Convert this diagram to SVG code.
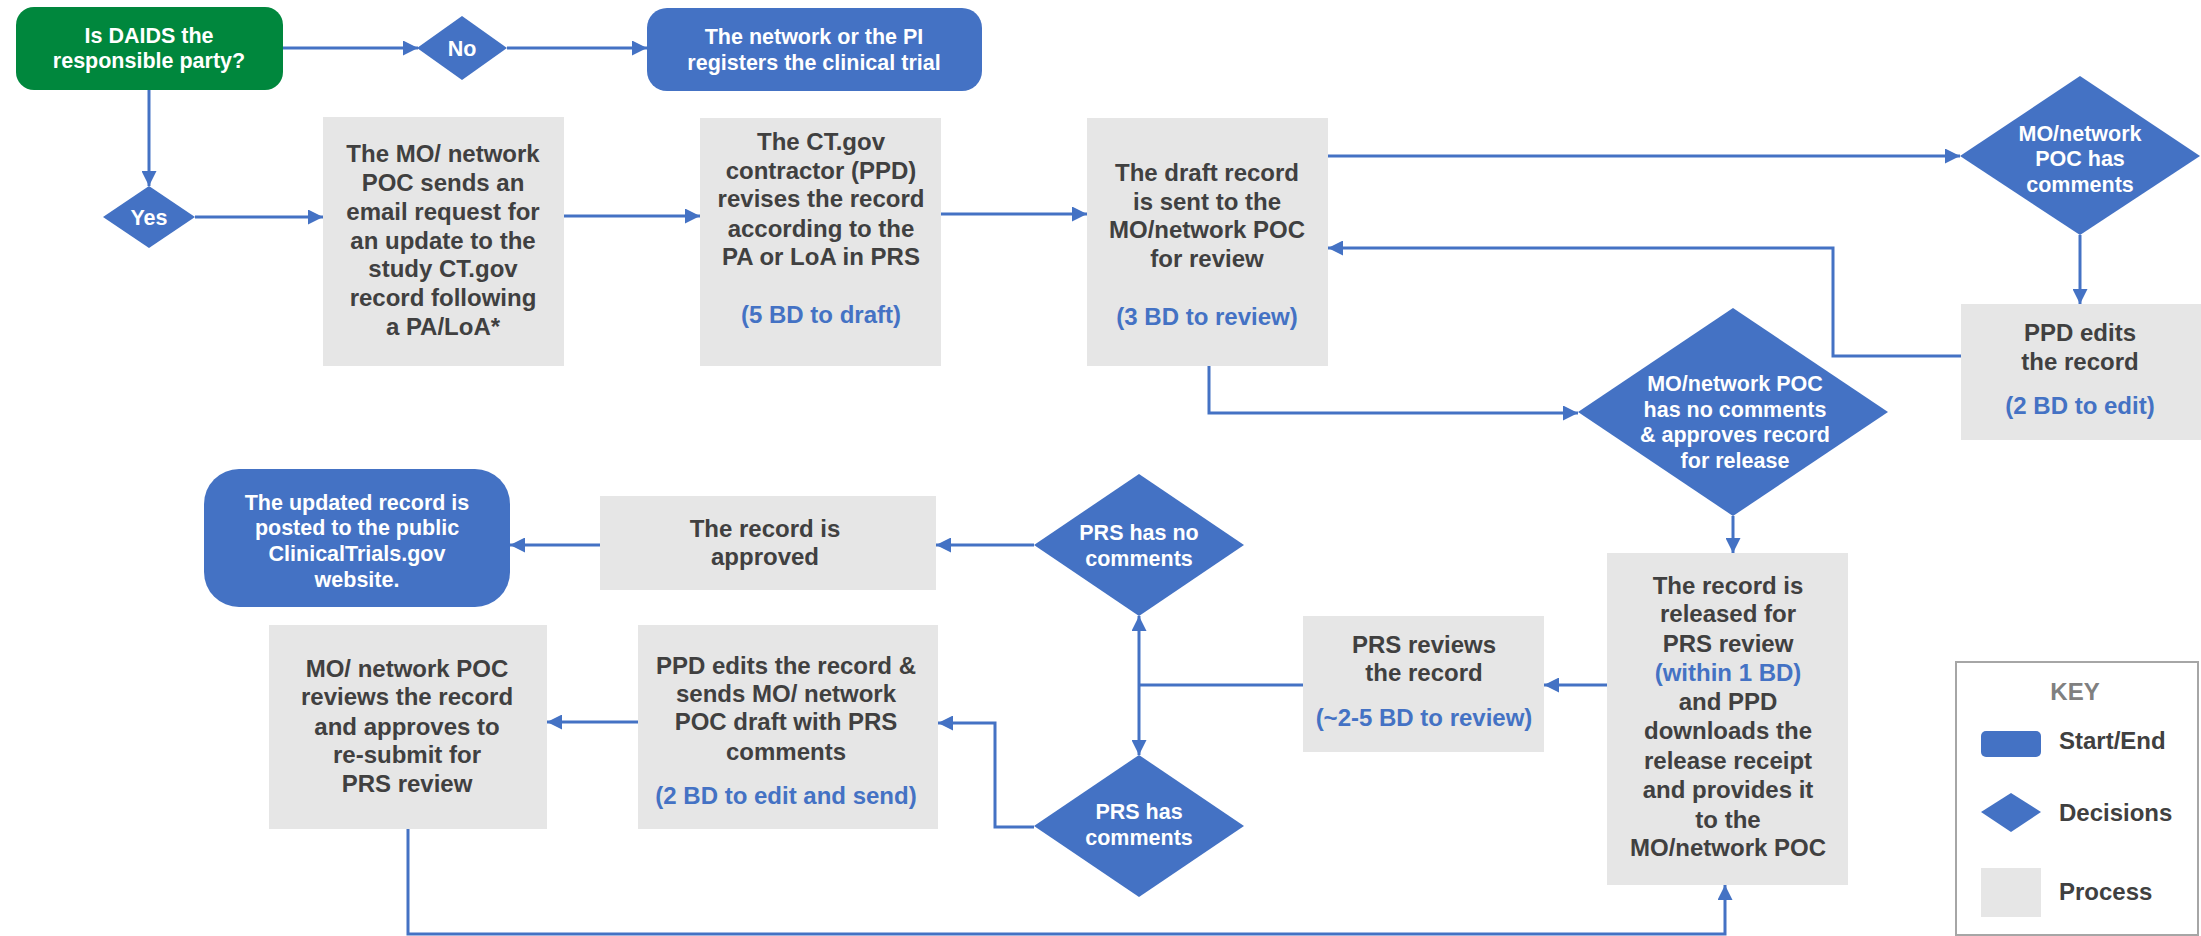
<svg xmlns="http://www.w3.org/2000/svg" width="2201" height="936" viewBox="0 0 2201 936">
<style>
text{font-family:"Liberation Sans",Arial,sans-serif;font-weight:bold;text-anchor:middle}
.p{fill:#E6E6E6}
.b{fill:#4472C4}
.t{font-size:24px;fill:#404040}
.bt{font-size:24px;fill:#4472C4}
.w{font-size:21.5px;fill:#FFFFFF}
.c{fill:none;stroke:#4472C4;stroke-width:3}
</style>
<defs>
<marker id="ah" viewBox="0 0 15 15" markerWidth="15" markerHeight="15" refX="15" refY="7.5" orient="auto" markerUnits="userSpaceOnUse">
<path d="M0,0 L15,7.5 L0,15 z" fill="#4472C4"/>
</marker>
</defs>
<g id="connectors">
<path class="c" d="M283,48 H418" marker-end="url(#ah)"/>
<path class="c" d="M507,48 H647" marker-end="url(#ah)"/>
<path class="c" d="M149,90 V186" marker-end="url(#ah)"/>
<path class="c" d="M195,217 H323" marker-end="url(#ah)"/>
<path class="c" d="M564,216 H700" marker-end="url(#ah)"/>
<path class="c" d="M941,214 H1087" marker-end="url(#ah)"/>
<path class="c" d="M1328,156 H1960" marker-end="url(#ah)"/>
<path class="c" d="M2080,235 V304" marker-end="url(#ah)"/>
<path class="c" d="M1961,356 H1833 V248 H1328" marker-end="url(#ah)"/>
<path class="c" d="M1209,366 V413 H1578" marker-end="url(#ah)"/>
<path class="c" d="M1733,516 V553" marker-end="url(#ah)"/>
<path class="c" d="M1607,685 H1544" marker-end="url(#ah)"/>
<path class="c" d="M1303,685 H1139"/>
<path class="c" d="M1139,685 V616" marker-end="url(#ah)"/>
<path class="c" d="M1139,685 V755" marker-end="url(#ah)"/>
<path class="c" d="M1034,545 H936" marker-end="url(#ah)"/>
<path class="c" d="M600,545 H510" marker-end="url(#ah)"/>
<path class="c" d="M1034,827 H995 V723 H938" marker-end="url(#ah)"/>
<path class="c" d="M638,722 H547" marker-end="url(#ah)"/>
<path class="c" d="M408,829 V934 H1725 V885" marker-end="url(#ah)"/>
</g>
<g id="start">
<rect x="16" y="7" width="267" height="83" rx="18" fill="#00873D"/>
<text class="w" x="149" y="43">Is DAIDS the</text>
<text class="w" x="149" y="68">responsible party?</text>
</g>
<g id="no">
<polygon class="b" points="462,16 507,48 462,80 417,48"/>
<text class="w" x="462" y="56">No</text>
</g>
<g id="network-registers">
<rect class="b" x="647" y="8" width="335" height="83" rx="20"/>
<text class="w" x="814" y="44">The network or the PI</text>
<text class="w" x="814" y="70">registers the clinical trial</text>
</g>
<g id="yes">
<polygon class="b" points="149,186 195,217 149,248 103,217"/>
<text class="w" x="149" y="225">Yes</text>
</g>
<g id="mo-email">
<rect class="p" x="323" y="117" width="241" height="249"/>
<text class="t" x="443" y="162">The MO/ network</text>
<text class="t" x="443" y="191">POC sends an</text>
<text class="t" x="443" y="220">email request for</text>
<text class="t" x="443" y="249">an update to the</text>
<text class="t" x="443" y="277">study CT.gov</text>
<text class="t" x="443" y="306">record following</text>
<text class="t" x="443" y="335">a PA/LoA*</text>
</g>
<g id="ctgov-revises">
<rect class="p" x="700" y="118" width="241" height="248"/>
<text class="t" x="821" y="150">The CT.gov</text>
<text class="t" x="821" y="179">contractor (PPD)</text>
<text class="t" x="821" y="207">revises the record</text>
<text class="t" x="821" y="237">according to the</text>
<text class="t" x="821" y="265">PA or LoA in PRS</text>
<text class="bt" x="821" y="323">(5 BD to draft)</text>
</g>
<g id="draft-sent">
<rect class="p" x="1087" y="118" width="241" height="248"/>
<text class="t" x="1207" y="181">The draft record</text>
<text class="t" x="1207" y="210">is sent to the</text>
<text class="t" x="1207" y="238">MO/network POC</text>
<text class="t" x="1207" y="267">for review</text>
<text class="bt" x="1207" y="325">(3 BD to review)</text>
</g>
<g id="mo-has-comments">
<polygon class="b" points="2080,76 2200,156 2080,235 1960,156"/>
<text class="w" x="2080" y="141">MO/network</text>
<text class="w" x="2080" y="166">POC has</text>
<text class="w" x="2080" y="192">comments</text>
</g>
<g id="ppd-edits">
<rect class="p" x="1961" y="304" width="240" height="136"/>
<text class="t" x="2080" y="341">PPD edits</text>
<text class="t" x="2080" y="370">the record</text>
<text class="bt" x="2080" y="414">(2 BD to edit)</text>
</g>
<g id="mo-approves">
<polygon class="b" points="1733,308 1888,412 1733,516 1578,412"/>
<text class="w" x="1735" y="391">MO/network POC</text>
<text class="w" x="1735" y="417">has no comments</text>
<text class="w" x="1735" y="442">&amp; approves record</text>
<text class="w" x="1735" y="468">for release</text>
</g>
<g id="released">
<rect class="p" x="1607" y="553" width="241" height="332"/>
<text class="t" x="1728" y="594">The record is</text>
<text class="t" x="1728" y="622">released for</text>
<text class="t" x="1728" y="652">PRS review</text>
<text class="bt" x="1728" y="681">(within 1 BD)</text>
<text class="t" x="1728" y="710">and PPD</text>
<text class="t" x="1728" y="739">downloads the</text>
<text class="t" x="1728" y="769">release receipt</text>
<text class="t" x="1728" y="798">and provides it</text>
<text class="t" x="1728" y="828">to the</text>
<text class="t" x="1728" y="856">MO/network POC</text>
</g>
<g id="prs-reviews">
<rect class="p" x="1303" y="616" width="241" height="136"/>
<text class="t" x="1424" y="653">PRS reviews</text>
<text class="t" x="1424" y="681">the record</text>
<text class="bt" x="1424" y="726">(~2-5 BD to review)</text>
</g>
<g id="prs-no-comments">
<polygon class="b" points="1139,474 1244,545 1139,616 1034,545"/>
<text class="w" x="1139" y="540">PRS has no</text>
<text class="w" x="1139" y="566">comments</text>
</g>
<g id="prs-has-comments">
<polygon class="b" points="1139,755 1244,826 1139,897 1034,826"/>
<text class="w" x="1139" y="819">PRS has</text>
<text class="w" x="1139" y="845">comments</text>
</g>
<g id="approved">
<rect class="p" x="600" y="496" width="336" height="94"/>
<text class="t" x="765" y="537">The record is</text>
<text class="t" x="765" y="565">approved</text>
</g>
<g id="end">
<rect class="b" x="204" y="469" width="306" height="138" rx="35"/>
<text class="w" x="357" y="510">The updated record is</text>
<text class="w" x="357" y="535">posted to the public</text>
<text class="w" x="357" y="561">ClinicalTrials.gov</text>
<text class="w" x="357" y="587">website.</text>
</g>
<g id="ppd-edits-sends">
<rect class="p" x="638" y="625" width="300" height="204"/>
<text class="t" x="786" y="674">PPD edits the record &amp;</text>
<text class="t" x="786" y="702">sends MO/ network</text>
<text class="t" x="786" y="730">POC draft with PRS</text>
<text class="t" x="786" y="760">comments</text>
<text class="bt" x="786" y="804">(2 BD to edit and send)</text>
</g>
<g id="mo-reviews">
<rect class="p" x="269" y="625" width="278" height="204"/>
<text class="t" x="407" y="677">MO/ network POC</text>
<text class="t" x="407" y="705">reviews the record</text>
<text class="t" x="407" y="735">and approves to</text>
<text class="t" x="407" y="763">re-submit for</text>
<text class="t" x="407" y="792">PRS review</text>
</g>
<g id="key">
<rect x="1956" y="662" width="242" height="273" fill="#FFFFFF" stroke="#A6A6A6" stroke-width="2"/>
<text x="2075" y="700" style="font-size:24px;fill:#808080">KEY</text>
<rect class="b" x="1981" y="731" width="60" height="26" rx="5"/>
<text class="t" x="2059" y="749" style="text-anchor:start">Start/End</text>
<polygon class="b" points="2011,793 2041,812 2011,832 1981,812"/>
<text class="t" x="2059" y="821" style="text-anchor:start">Decisions</text>
<rect class="p" x="1981" y="868" width="60" height="49"/>
<text class="t" x="2059" y="900" style="text-anchor:start">Process</text>
</g>
</svg>
